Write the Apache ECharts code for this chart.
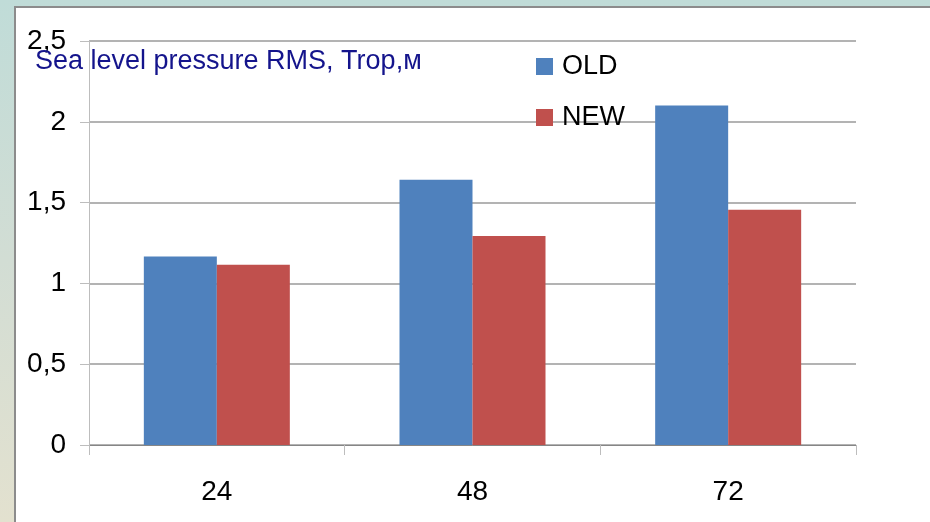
<!DOCTYPE html>
<html>
<head>
<meta charset="utf-8">
<script src="https://cdn.jsdelivr.net/npm/echarts@6/dist/echarts.min.js"></script>
<style>
    html, body { margin: 0; padding: 0; }
    body {
        width: 930px; height: 522px; overflow: hidden; position: relative;
        background: linear-gradient(to bottom, #c0dcd8 0%, #d2ddd4 50%, #e3e1cf 100%);
    }
    #panel {
        position: absolute; left: 14px; top: 6px; width: 914px; height: 520px;
        background: #fff; border-left: 2px solid #8c8c8c; border-top: 2px solid #8c8c8c;
        border-right: 2px solid #8c8c8c;
    }
    #chart { position: absolute; left: 0; top: 0; width: 930px; height: 522px; }
</style>
</head>
<body>
<div id="panel"></div>
<div id="chart"></div>
<script>
const categories = ['24', '48', '72'];
const oldValues = [1.166, 1.641, 2.101];
const newValues = [1.115, 1.294, 1.455];
const seriesNames = ['OLD', 'NEW'];
const titleText = 'Sea level pressure RMS, Trop,м';

const font = '"Liberation Sans", Arial, sans-serif';

const chart = echarts.init(document.getElementById('chart'));
chart.setOption({
    animation: false,
    backgroundColor: 'transparent',
    title: {
        text: titleText,
        left: 30,
        top: 43,
        textStyle: { fontFamily: font, fontSize: 27, fontWeight: 'normal', color: '#14148c' },
    },
    legend: {
        orient: 'vertical',
        left: 531,
        top: 48,
        itemWidth: 17,
        itemHeight: 17,
        itemGap: 24,
        icon: 'rect',
        data: seriesNames,
        textStyle: { fontFamily: font, fontSize: 27, color: '#000', padding: [0, 0, 0, 4] },
    },
    grid: { left: 89, right: 74, top: 41, bottom: 77 },
    xAxis: {
        type: 'category',
        data: categories,
        axisLine: { lineStyle: { color: '#868686', width: 1 } },
        axisTick: { show: true, length: 10, lineStyle: { color: '#bdbdbd' } },
        axisLabel: { fontFamily: font, fontSize: 28, color: '#000', margin: 33 },
    },
    yAxis: {
        type: 'value',
        min: 0,
        max: 2.5,
        interval: 0.5,
        axisLine: { show: true, lineStyle: { color: '#bdbdbd', width: 1 } },
        axisTick: { show: true, length: 9, lineStyle: { color: '#bdbdbd' } },
        splitLine: { lineStyle: { color: '#b3b3b3', width: 2 } },
        axisLabel: {
            fontFamily: font, fontSize: 28, color: '#000', margin: 23,
            formatter: v => String(v).replace('.', ','),
        },
    },
    series: [
        {
            name: seriesNames[0], type: 'bar', data: oldValues,
            barWidth: 73, barGap: '0%',
            itemStyle: { color: '#4f81bd' },
        },
        {
            name: seriesNames[1], type: 'bar', data: newValues,
            barWidth: 73, barGap: '0%',
            itemStyle: { color: '#c0504d' },
        },
    ],
});
</script>
</body>
</html>
